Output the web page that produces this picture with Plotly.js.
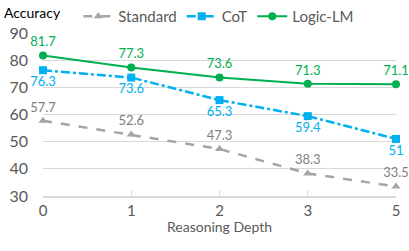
<!DOCTYPE html>
<html><head><meta charset="utf-8">
<script src="https://cdn.plot.ly/plotly-3.0.1.min.js"></script>
<style>html,body{margin:0;padding:0;background:#fff}</style>
</head><body><div id="chart" style="width:409px;height:251px"></div>
<script>
const depths = ["0", "1", "2", "3", "5"];
const standard = [57.7, 52.6, 47.3, 38.3, 33.5];
const cot = [76.3, 73.6, 65.3, 59.4, 51];
const logicLM = [81.7, 77.3, 73.6, 71.3, 71.1];
const yTicks = [30, 40, 50, 60, 70, 80, 90];

const FONT = "Lato, 'Open Sans', sans-serif";
const traces = [
  {x: depths, y: standard, name: "Standard", type: "scatter", mode: "lines+markers+text",
   line: {color: "#A5A5A5", width: 2.5, dash: "dash"},
   marker: {symbol: "triangle-up", size: 8, color: "#A5A5A5"},
   text: standard.map(String), textposition: "top center",
   textfont: {color: "#808080", size: 13, family: FONT}, cliponaxis: false},
  {x: depths, y: cot, name: "CoT", type: "scatter", mode: "lines+markers+text",
   line: {color: "#00B0F0", width: 2.5, dash: "dashdot"},
   marker: {symbol: "square", size: 8, color: "#00B0F0"},
   text: cot.map(String), textposition: "bottom center",
   textfont: {color: "#00B0F0", size: 13, family: FONT}, cliponaxis: false},
  {x: depths, y: logicLM, name: "Logic-LM", type: "scatter", mode: "lines+markers+text",
   line: {color: "#00B050", width: 2},
   marker: {symbol: "circle", size: 8, color: "#00B050"},
   text: logicLM.map(String), textposition: "top center",
   textfont: {color: "#00B050", size: 13, family: FONT}, cliponaxis: false}
];

const layout = {
  width: 409, height: 251,
  margin: {l: 43, r: 13, t: 32, b: 55},
  paper_bgcolor: "#fff", plot_bgcolor: "#fff",
  font: {family: FONT, color: "#595959"},
  showlegend: true,
  legend: {orientation: "h", x: 0.1, xanchor: "left", y: 1.0, yanchor: "top",
           yref: "container", font: {size: 15, color: "#595959", family: FONT},
           itemwidth: 30, traceorder: "normal", bgcolor: "rgba(0,0,0,0)",
           tracegroupgap: 0},
  xaxis: {type: "category", range: [0, 4], showgrid: false, zeroline: false,
          showline: true, linecolor: "#D9D9D9", linewidth: 1.5,
          ticks: "inside", ticklen: 6, tickcolor: "#D9D9D9",
          tickfont: {size: 15, color: "#595959"},
          title: {text: "Reasoning Depth", font: {size: 14, color: "#595959"}, standoff: 4}},
  yaxis: {range: [30, 90], tickvals: yTicks, showgrid: true, gridcolor: "#D9D9D9",
          zeroline: false, showline: false, ticks: "", ticklabelstandoff: 14,
          tickfont: {size: 16, color: "#595959"}},
  annotations: [{text: "Accuracy", xref: "paper", yref: "paper",
                 x: -0.116, y: 1.19, xanchor: "left", yanchor: "top", showarrow: false,
                 font: {size: 14, color: "#000", family: FONT}}]
};
Plotly.newPlot("chart", traces, layout, {displayModeBar: false, staticPlot: true});
</script></body></html>
